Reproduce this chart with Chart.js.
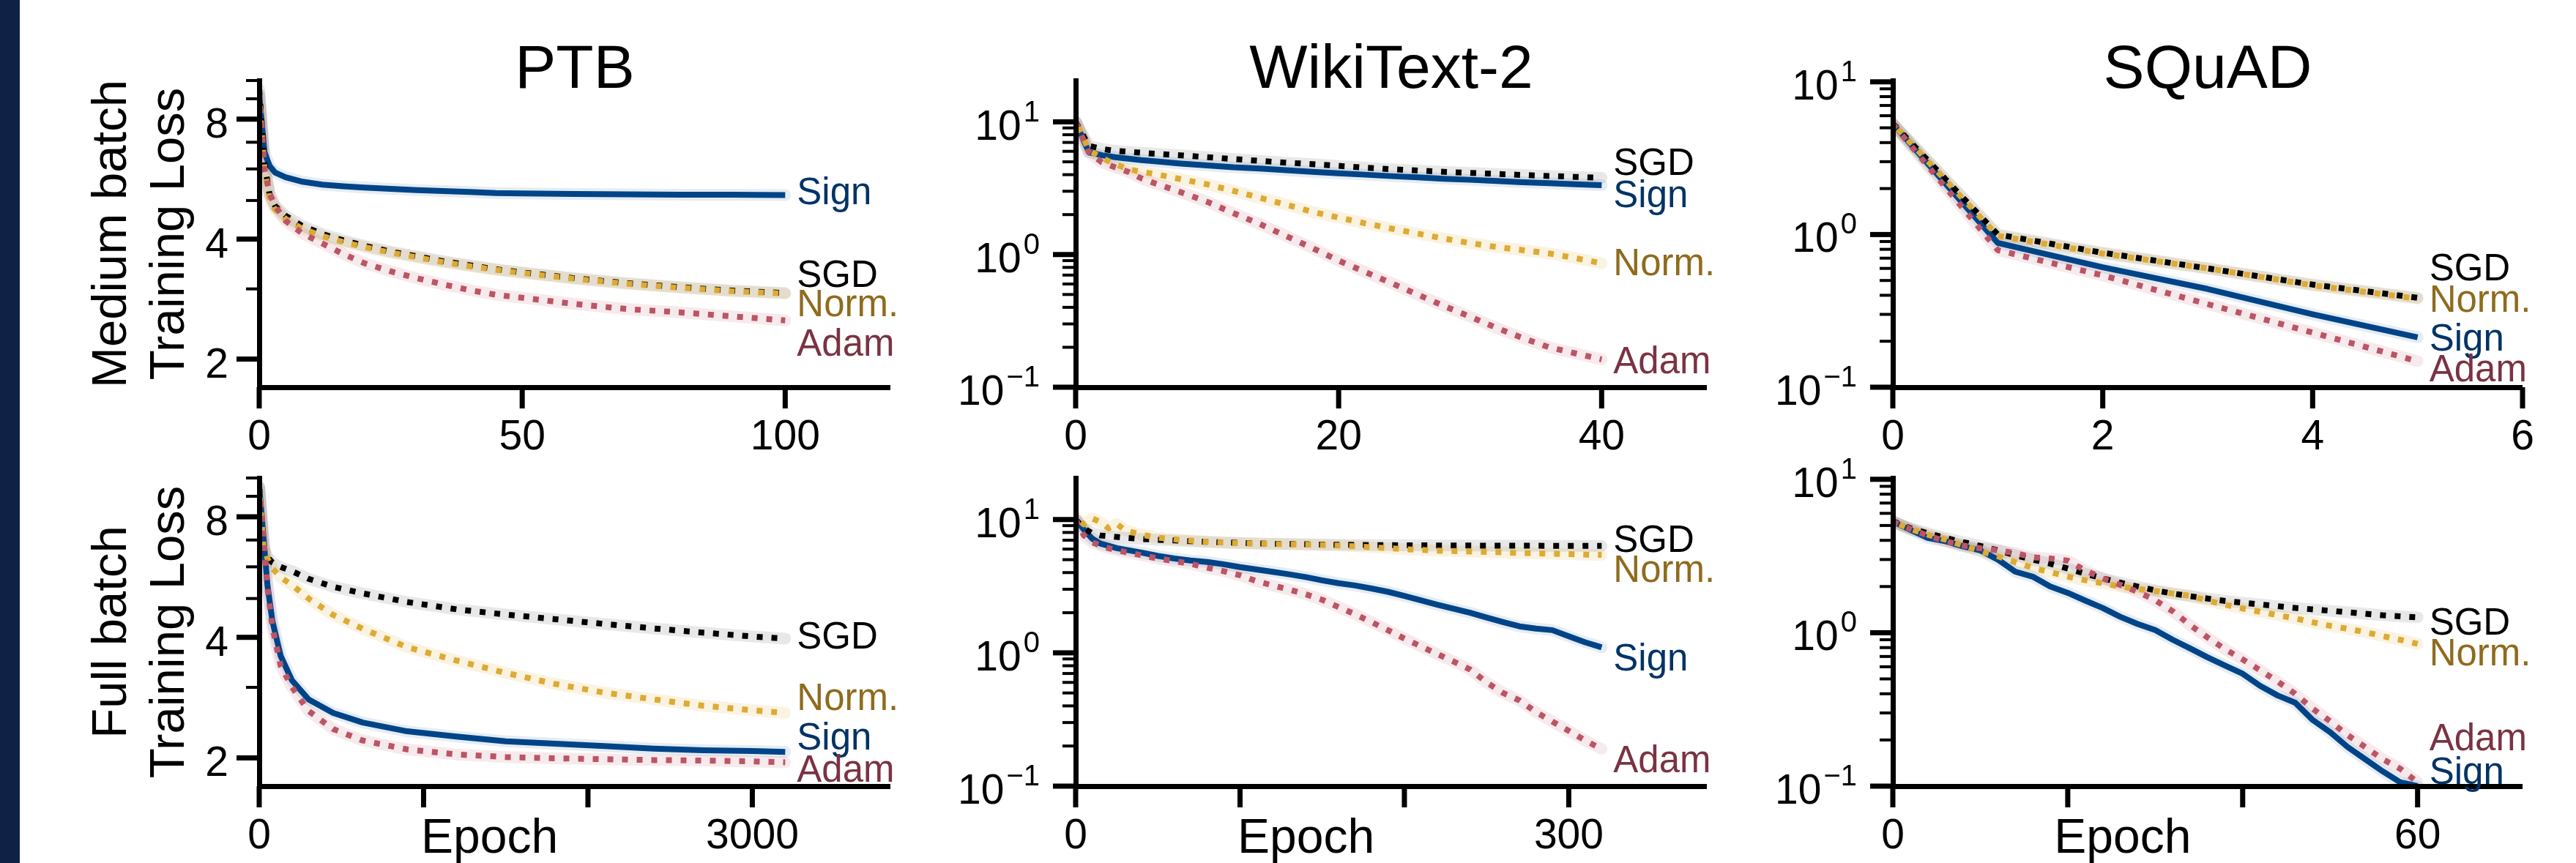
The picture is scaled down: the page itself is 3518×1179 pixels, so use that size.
<!DOCTYPE html>
<html>
<head>
<meta charset="utf-8">
<script src="https://cdn.jsdelivr.net/npm/chart.js@4.4.1/dist/chart.umd.min.js"></script>
<style>
html,body{margin:0;padding:0;background:#fff;}
#wrap{position:relative;width:3518px;height:1179px;overflow:hidden;background:#fff;}
#strip{position:absolute;left:0;top:0;width:27px;height:1179px;background:#0f2246;}
canvas{position:absolute;top:0;}
</style>
</head>
<body>
<div id="wrap">
<div id="strip"></div>
<canvas id="c00"></canvas><canvas id="c01"></canvas><canvas id="c02"></canvas>
<canvas id="c10"></canvas><canvas id="c11"></canvas><canvas id="c12"></canvas>
</div>
<script>
// ---------------- DATA ----------------
const methods = ['Sign', 'SGD', 'Norm.', 'Adam'];
const datasetTitles = ['PTB', 'WikiText-2', 'SQuAD'];
const rowLabels = [['Medium batch', 'Training Loss'], ['Full batch', 'Training Loss']];
const xAxisLabel = 'Epoch';

// PTB, medium batch
const ptbMediumEpochs = [0,1,2,3,5,8,12,16,20,25,30,35,40,45,50,60,70,80,90,100];
const ptbMediumSign = [9.2,6.6,6.1,5.88,5.72,5.58,5.48,5.43,5.39,5.35,5.31,5.28,5.25,5.22,5.21,5.19,5.18,5.17,5.17,5.16];
const ptbMediumSgd  = [9.5,6.2,5.15,4.85,4.58,4.33,4.12,3.97,3.85,3.72,3.62,3.52,3.44,3.36,3.3,3.19,3.1,3.03,2.97,2.93];
const ptbMediumNorm = [9.0,6.0,5.05,4.75,4.5,4.26,4.07,3.93,3.82,3.7,3.6,3.5,3.42,3.35,3.29,3.18,3.09,3.02,2.96,2.92];
const ptbMediumAdam = [9.3,6.0,5.2,4.85,4.45,4.15,3.9,3.67,3.48,3.32,3.19,3.08,2.98,2.9,2.85,2.75,2.67,2.62,2.56,2.5];

// WikiText-2, medium batch
const wtMediumEpochs = [0,1,2,3,4,5,6,8,10,12,14,16,18,20,22,24,26,28,30,32,34,36,38,40];
const wtMediumSign = [10,5.9,5.6,5.42,5.28,5.15,5.05,4.85,4.7,4.55,4.45,4.32,4.2,4.1,4.0,3.9,3.82,3.73,3.66,3.58,3.51,3.45,3.39,3.33];
const wtMediumSgd  = [10,6.6,6.25,6.05,5.95,5.85,5.75,5.6,5.42,5.25,5.08,4.93,4.8,4.66,4.52,4.4,4.3,4.2,4.12,4.05,3.98,3.91,3.85,3.79];
const wtMediumNorm = [10.3,6.1,5.35,4.8,4.4,4.2,4.05,3.7,3.38,3.02,2.68,2.38,2.1,1.9,1.72,1.57,1.44,1.32,1.22,1.14,1.08,1.02,0.94,0.86];
const wtMediumAdam = [10,5.9,4.95,4.55,4.2,3.75,3.45,2.95,2.5,2.05,1.7,1.38,1.12,0.9,0.74,0.61,0.5,0.41,0.34,0.28,0.235,0.2,0.18,0.162];

// SQuAD, medium batch
const squadMediumEpochs = [0,1,2,3,4,5];
const squadMediumSign = [5.3,0.88,0.61,0.44,0.3,0.212];
const squadMediumSgd  = [5.34,1.0,0.76,0.6,0.47,0.385];
const squadMediumNorm = [5.3,0.98,0.75,0.6,0.465,0.38];
const squadMediumAdam = [5.3,0.79,0.54,0.35,0.228,0.148];

// PTB, full batch
const ptbFullEpochs = [0,25,50,80,130,200,300,450,630,900,1200,1500,1800,2100,2400,2700,3000,3200];
const ptbFullSign = [9.5,7.2,5.4,4.4,3.6,3.12,2.8,2.59,2.45,2.33,2.26,2.2,2.17,2.14,2.11,2.09,2.08,2.07];
const ptbFullSgd  = [9.5,6.7,6.35,6.15,6.0,5.85,5.6,5.35,5.15,4.9,4.7,4.56,4.44,4.32,4.21,4.11,4.02,3.97];
const ptbFullNorm = [9.3,6.8,6.3,5.95,5.65,5.4,5.0,4.55,4.2,3.78,3.5,3.26,3.06,2.91,2.8,2.7,2.63,2.59];
const ptbFullAdam = [9.5,7.2,5.3,4.25,3.4,3.0,2.62,2.36,2.21,2.1,2.04,2.01,1.995,1.985,1.975,1.97,1.96,1.95];

// WikiText-2, full batch
const wtFullEpochs = [0,5,10,15,20,25,30,40,50,60,70,80,90,100,110,120,130,140,150,160,170,180,190,200,210,220,230,240,250,260,270,280,290,300,310,320];
const wtFullSign = [10,8.4,7.2,6.6,6.35,6.1,5.95,5.65,5.33,5.1,4.93,4.8,4.62,4.4,4.22,4.05,3.88,3.7,3.5,3.33,3.2,3.04,2.87,2.67,2.48,2.3,2.14,2.0,1.84,1.7,1.58,1.52,1.48,1.33,1.2,1.1];
const wtFullSgd  = [10,8.6,7.9,7.6,7.5,7.4,7.3,7.15,7.05,6.97,6.88,6.8,6.74,6.68,6.62,6.58,6.55,6.52,6.49,6.47,6.45,6.43,6.42,6.41,6.4,6.39,6.38,6.38,6.37,6.37,6.36,6.36,6.35,6.35,6.34,6.34];
const wtFullNorm = [10.4,9.2,10.2,9.6,8.6,9.3,8.3,7.7,7.3,7.1,6.95,6.8,6.72,6.65,6.6,6.56,6.52,6.48,6.44,6.38,6.3,6.2,6.1,6.0,5.92,5.85,5.8,5.76,5.72,5.67,5.62,5.58,5.54,5.5,5.46,5.43];
const wtFullAdam = [10,7.6,6.75,6.4,6.1,5.9,5.7,5.4,5.1,4.88,4.65,4.35,4.1,3.82,3.45,3.2,2.98,2.75,2.5,2.2,1.95,1.7,1.48,1.28,1.12,0.98,0.86,0.75,0.6,0.5,0.44,0.36,0.305,0.26,0.22,0.19];

// SQuAD, full batch
const squadFullEpochs = [0,2,4,6,8,10,12,14,16,18,20,22,24,26,28,30,32,34,36,38,40,42,44,46,48,50,52,54,56,58,60];
const squadFullSign = [5.3,4.7,4.15,3.95,3.66,3.44,3.0,2.5,2.32,2.0,1.82,1.62,1.45,1.27,1.14,1.04,0.9,0.79,0.69,0.61,0.54,0.45,0.39,0.35,0.27,0.225,0.18,0.15,0.125,0.106,0.1];
const squadFullSgd  = [5.34,4.8,4.45,4.15,3.9,3.68,3.45,3.2,3.0,2.82,2.62,2.43,2.26,2.12,2.0,1.89,1.8,1.73,1.67,1.61,1.57,1.53,1.49,1.45,1.42,1.39,1.36,1.33,1.3,1.28,1.26];
const squadFullNorm = [5.3,4.75,4.35,4.05,3.7,3.4,3.15,2.88,2.65,2.48,2.32,2.2,2.1,2.0,1.93,1.87,1.8,1.74,1.62,1.52,1.44,1.37,1.3,1.24,1.17,1.11,1.06,1.01,0.95,0.9,0.846];
const squadFullAdam = [5.3,4.75,4.3,3.95,3.7,3.55,3.45,3.3,3.1,3.05,2.95,2.55,2.26,2.05,1.85,1.63,1.38,1.12,0.93,0.78,0.67,0.57,0.48,0.4,0.32,0.265,0.215,0.18,0.15,0.13,0.106];

// Axis ticks
const ptbYTicks = [2,3,4,5,6,7,8,9,10];
const ptbYLabelled = [2,4,8];
const decadeYTicks = [0.1,0.2,0.3,0.4,0.5,0.6,0.7,0.8,0.9,1,2,3,4,5,6,7,8,9,10];
const decadeYLabelled = [0.1,1,10];
const ptbMediumXTicks = [0,50,100];
const wtMediumXTicks = [0,20,40];
const squadMediumXTicks = [0,2,4,6];
const ptbFullXTicks = [0,1000,2000,3000];
const ptbFullXLabelled = [0,3000];
const wtFullXTicks = [0,100,200,300];
const wtFullXLabelled = [0,300];
const squadFullXTicks = [0,20,40,60];
const squadFullXLabelled = [0,60];

// Where each end-of-line label sits (loss value)
const ptbMediumLabelAt   = [5.29, 3.28, 2.76, 2.20];
const wtMediumLabelAt    = [2.86, 4.99, 0.873, 0.16];
const squadMediumLabelAt = [0.211, 0.614, 0.379, 0.133];
const ptbFullLabelAt     = [2.26, 4.05, 2.84, 1.88];
const wtFullLabelAt      = [0.927, 7.22, 4.25, 0.159];
const squadFullLabelAt   = [0.126, 1.18, 0.746, 0.208];

// ---------------- STYLE ----------------
const FONT = '"Liberation Sans", Arial, Helvetica, sans-serif';
const STYLE = {
  'Sign':  {line:'#004488', text:'#003366', band:'rgba(0,68,136,0.10)',  dash:[],     off:0,  order:4},
  'SGD':   {line:'#000000', text:'#000000', band:'rgba(0,0,0,0.09)',     dash:[8,12], off:0,  order:3},
  'Norm.': {line:'#DDAA33', text:'#8F6B1D', band:'rgba(221,170,51,0.14)',dash:[8,12], off:10, order:2},
  'Adam':  {line:'#BB5566', text:'#7A3343', band:'rgba(187,85,102,0.12)',dash:[8,12], off:0,  order:1}
};
const H = 1179;
const COLS = [{cl:0, cw:1290, l:354, r:1216}, {cl:1290, cw:1140, l:1469, r:2331}, {cl:2400, cw:1118, l:2585, r:3445}];
const ROWS = [{t:110, b:529}, {t:653, b:1074}];

function buildDatasets(epochs, seriesList) {
  const ds = [];
  methods.forEach((m, k) => {
    const st = STYLE[m];
    const vals = seriesList[k];
    ds.push({label:m, data: epochs.map((e,i)=>({x:e, y:vals[i]})), borderColor:st.line, borderWidth:8,
      borderDash:st.dash, borderDashOffset:st.off, borderCapStyle:'butt', borderJoinStyle:'round',
      pointRadius:0, tension:0, fill:false, order:st.order});
    ds.push({label:m+' band', data: epochs.map((e,i)=>({x:e, y:vals[i]})), borderColor:st.band, borderWidth:16,
      borderCapStyle:'round', borderJoinStyle:'round', pointRadius:0, tension:0, fill:false, order:10});
  });
  return ds;
}

function near(list, v) { return list.some(a => Math.abs(a - v) < 1e-9 * Math.max(1, Math.abs(a))); }

function makeDecor(spec) {
  return {
    id: 'decor',
    afterDraw(chart) {
      const ctx = chart.ctx, xs = chart.scales.x, ys = chart.scales.y, ca = chart.chartArea;
      ctx.save();
      ctx.fillStyle = '#000';
      // y ticks + labels
      ys.ticks.forEach(t => {
        const v = t.value, py = ys.getPixelForValue(v);
        const major = near(spec.yLabelled, v);
        if (major) ctx.fillRect(ca.left - 31, py - 3.5, 31, 7);
        else ctx.fillRect(ca.left - 18, py - 2, 18, 4);
        if (!major) return;
        if (spec.yFormat === 'pow10') {
          const ex = Math.round(Math.log10(v));
          const sup = ex < 0 ? '\u2212' + Math.abs(ex) : String(ex);
          ctx.font = '57px ' + FONT;
          const w10 = ctx.measureText('10').width;
          ctx.font = '40px ' + FONT;
          const ws = ctx.measureText(sup).width;
          const right = ca.left - 49;
          const start = right - ws - 3 - w10;
          ctx.textAlign = 'left'; ctx.textBaseline = 'alphabetic';
          ctx.font = '57px ' + FONT;
          ctx.fillText('10', start, py + 24);
          ctx.font = '40px ' + FONT;
          ctx.fillText(sup, start + w10 + 3, py - 1);
        } else {
          ctx.font = '57px ' + FONT;
          ctx.textAlign = 'right'; ctx.textBaseline = 'alphabetic';
          ctx.fillText(String(v), ca.left - 42, py + 25);
        }
      });
      // x ticks + labels
      ctx.font = '57px ' + FONT;
      ctx.textAlign = 'center'; ctx.textBaseline = 'alphabetic';
      xs.ticks.forEach(t => {
        const px = xs.getPixelForValue(t.value);
        ctx.fillRect(px - 3.5, ca.bottom, 7, 29);
        if (near(spec.xLabelled, t.value)) ctx.fillText(String(t.value), px, ca.bottom + 85);
      });
      // title
      if (spec.title) {
        ctx.font = '84px ' + FONT;
        ctx.textAlign = 'center';
        ctx.fillText(spec.title, (ca.left + ca.right) / 2, ca.top + 10);
      }
      // Epoch label
      if (spec.xTitle) {
        ctx.font = '66px ' + FONT;
        ctx.textAlign = 'center';
        ctx.fillText(spec.xTitle, ca.left + 0.365 * (ca.right - ca.left), ca.bottom + 91);
      }
      // y label (two lines, rotated)
      if (spec.yTitle) {
        ctx.font = '67px ' + FONT;
        ctx.textAlign = 'center';
        const cy = (ca.top + ca.bottom) / 2;
        [172, 251].forEach((bx, i) => {
          ctx.save();
          ctx.translate(bx - spec.canvasLeft, cy);
          ctx.rotate(-Math.PI / 2);
          ctx.fillText(spec.yTitle[i], 0, 0);
          ctx.restore();
        });
      }
      // end-of-line labels
      ctx.font = '51px ' + FONT;
      ctx.textAlign = 'left';
      const lx = xs.getPixelForValue(spec.xEnd) + 16;
      methods.forEach((m, k) => {
        ctx.fillStyle = STYLE[m].text;
        ctx.fillText(m, lx, ys.getPixelForValue(spec.labelAt[k]) + 18);
      });
      ctx.restore();
    }
  };
}

function makePanel(id, row, col, spec) {
  const c = COLS[col], r = ROWS[row];
  const cv = document.getElementById(id);
  cv.width = c.cw; cv.height = H;
  cv.style.left = c.cl + 'px'; cv.style.top = '0px';
  cv.style.width = c.cw + 'px'; cv.style.height = H + 'px';
  spec.canvasLeft = c.cl;
  const border = {display:true, width:7, color:'#000', z:1};
  const grid = {display:true, drawOnChartArea:false, drawTicks:false, color:'rgba(0,0,0,0)', lineWidth:0};
  new Chart(cv, {
    type: 'line',
    data: {datasets: buildDatasets(spec.epochs, spec.series)},
    options: {
      responsive:false, animation:false, devicePixelRatio:1, events:[],
      layout:{padding:{left:c.l - c.cl, right:c.cl + c.cw - c.r, top:r.t, bottom:H - r.b}},
      plugins:{legend:{display:false}, tooltip:{enabled:false}, title:{display:false}},
      scales:{
        x:{type:'linear', min:0, max:spec.xMax, border:border, grid:grid,
           ticks:{display:false},
           afterBuildTicks:s => { s.ticks = spec.xTicks.map(v => ({value:v})); },
           afterFit:s => { s.height = 0; }},
        y:{type:'logarithmic', min:spec.yMin, max:spec.yMax, border:border, grid:grid,
           ticks:{display:false},
           afterBuildTicks:s => { s.ticks = spec.yTicks.map(v => ({value:v})); },
           afterFit:s => { s.width = 0; }}
      }
    },
    plugins:[makeDecor(spec)]
  });
}

makePanel('c00', 0, 0, {title:datasetTitles[0], yTitle:rowLabels[0], epochs:ptbMediumEpochs,
  series:[ptbMediumSign, ptbMediumSgd, ptbMediumNorm, ptbMediumAdam], xMax:120, xEnd:100,
  xTicks:ptbMediumXTicks, xLabelled:ptbMediumXTicks, yMin:1.72, yMax:10, yTicks:ptbYTicks,
  yLabelled:ptbYLabelled, yFormat:'plain', labelAt:ptbMediumLabelAt});
makePanel('c01', 0, 1, {title:datasetTitles[1], epochs:wtMediumEpochs,
  series:[wtMediumSign, wtMediumSgd, wtMediumNorm, wtMediumAdam], xMax:48, xEnd:40,
  xTicks:wtMediumXTicks, xLabelled:wtMediumXTicks, yMin:0.1, yMax:20.5, yTicks:decadeYTicks,
  yLabelled:decadeYLabelled, yFormat:'pow10', labelAt:wtMediumLabelAt});
makePanel('c02', 0, 2, {title:datasetTitles[2], epochs:squadMediumEpochs,
  series:[squadMediumSign, squadMediumSgd, squadMediumNorm, squadMediumAdam], xMax:6, xEnd:5,
  xTicks:squadMediumXTicks, xLabelled:squadMediumXTicks, yMin:0.1, yMax:10.2, yTicks:decadeYTicks,
  yLabelled:decadeYLabelled, yFormat:'pow10', labelAt:squadMediumLabelAt});
makePanel('c10', 1, 0, {yTitle:rowLabels[1], xTitle:xAxisLabel, epochs:ptbFullEpochs,
  series:[ptbFullSign, ptbFullSgd, ptbFullNorm, ptbFullAdam], xMax:3840, xEnd:3200,
  xTicks:ptbFullXTicks, xLabelled:ptbFullXLabelled, yMin:1.72, yMax:10, yTicks:ptbYTicks,
  yLabelled:ptbYLabelled, yFormat:'plain', labelAt:ptbFullLabelAt});
makePanel('c11', 1, 1, {xTitle:xAxisLabel, epochs:wtFullEpochs,
  series:[wtFullSign, wtFullSgd, wtFullNorm, wtFullAdam], xMax:384, xEnd:320,
  xTicks:wtFullXTicks, xLabelled:wtFullXLabelled, yMin:0.1, yMax:20.5, yTicks:decadeYTicks,
  yLabelled:decadeYLabelled, yFormat:'pow10', labelAt:wtFullLabelAt});
makePanel('c12', 1, 2, {xTitle:xAxisLabel, epochs:squadFullEpochs,
  series:[squadFullSign, squadFullSgd, squadFullNorm, squadFullAdam], xMax:72, xEnd:60,
  xTicks:squadFullXTicks, xLabelled:squadFullXLabelled, yMin:0.1, yMax:10.2, yTicks:decadeYTicks,
  yLabelled:decadeYLabelled, yFormat:'pow10', labelAt:squadFullLabelAt});
</script>
</body>
</html>
